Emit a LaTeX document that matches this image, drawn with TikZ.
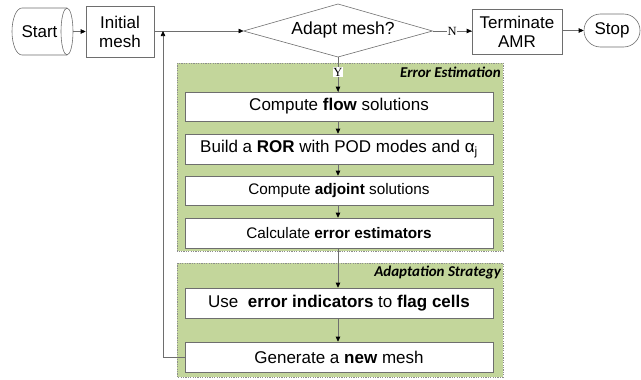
\documentclass[tikz,border=0pt]{standalone}
\usepackage{fontspec}
\setmainfont{Liberation Sans}
\newfontfamily\labfont{Carlito}
\newfontfamily\ynfont{Liberation Serif}
\usetikzlibrary{arrows.meta,shapes.geometric,shapes.misc}
\definecolor{grp}{RGB}{195,214,155}
\definecolor{ln}{RGB}{110,110,110}
\begin{document}
\begin{tikzpicture}[x=1pt,y=-1pt,
  line/.style={draw=ln, line width=0.6pt},
  arr/.style={line, -{Triangle[length=5pt,width=4.5pt,fill=black,color=black]}},
  box/.style={draw=ln, line width=0.6pt, fill=white, align=center, inner sep=0pt,
              font=\fontsize{17}{19}\selectfont},
  wbox/.style={box, minimum width=308pt},
  small/.style={font=\fontsize{15.3}{18}\selectfont},
  group/.style={draw=black!45, line width=0.6pt, dash pattern=on 1.2pt off 1.2pt, fill=grp},
  grplabel/.style={anchor=east, inner sep=0pt, font=\labfont\bfseries\itshape\fontsize{15}{17}\selectfont},
  yn/.style={fill=white, inner sep=0.5pt, font=\ynfont\fontsize{12.5}{13}\selectfont}
]
\useasboundingbox (0,0) rectangle (641,380);

% groups
\draw[group] (177,63) rectangle (503,251);
\draw[group] (177,263) rectangle (503,377);
\node[grplabel] (lab1) at (501,72) {Error Estimation};
\node[grplabel] (lab2) at (501,272) {Adaptation Strategy};

% start shape
\draw[line, fill=white] (22,8) -- (67,8) arc[start angle=-90, end angle=90, x radius=6, y radius=23.5]
   -- (22,55) arc[start angle=90, end angle=270, x radius=10, y radius=23.5] -- cycle;
\draw[line] (67,8) arc[start angle=-90, end angle=-270, x radius=6, y radius=23.5];
\node[font=\fontsize{17}{19}\selectfont, inner sep=0pt] (start) at (39.5,31.5) {Start};
\coordinate (startE) at (73,31.5);

% top row
\node[box, minimum width=68pt, minimum height=51pt] (init) at (120,31.5) {Initial\\mesh};
\draw[line, fill=white] (243.5,31) -- (338,4) -- (432.5,31) -- (338,57) -- cycle;
\coordinate (dW) at (243.5,31);
\coordinate (dE) at (432.5,31);
\coordinate (dS) at (338,57);
\node[font=\fontsize{17.5}{19}\selectfont, inner sep=0pt] (dec) at (343,30) {Adapt mesh?};
\node[box, minimum width=90pt, minimum height=45pt] (term) at (517,32) {Terminate\\AMR};
\node[box, rounded rectangle, minimum width=56pt, minimum height=33pt] (stop) at (612,30.5) {Stop};

% column boxes
\node[wbox, minimum height=29pt] (flow) at (339,106.5) {Compute \textbf{flow} solutions};
\node[wbox, minimum height=30pt] (ror) at (339,149) {Build a \textbf{ROR} with POD modes and α\textsubscript{j}};
\node[wbox, small, minimum height=29pt] (adj) at (339,190.5) {Compute \textbf{adjoint} solutions};
\node[wbox, small, minimum height=30pt] (est) at (339,233) {Calculate \textbf{error estimators}};
\node[wbox, minimum height=30pt] (flag) at (339,303) {Use\ \ \textbf{error indicators} to \textbf{flag cells}};
\node[wbox, minimum height=30pt] (new) at (339,357) {Generate a \textbf{new} mesh};

% connectors
\draw[arr] (startE) -- (init.west);
\draw[arr] (init.east |- dW) -- (dW);
\draw[line] (dE) -- node[yn] (nlab) {N} (term.west |- dE);
\draw[arr] (nlab.east) -- (term.west |- dE);
\draw[arr] (term.east |- stop.west) -- (stop.west);
\draw[line] (dS) -- (338,92);
\node[yn] (ylab) at (338,72) {Y};
\draw[arr] (ylab.south) -- (flow.north -| 338,0);
\draw[arr] (flow.south -| 338,0) -- (ror.north -| 338,0);
\draw[arr] (ror.south -| 338,0) -- (adj.north -| 338,0);
\draw[arr] (adj.south -| 338,0) -- (est.north -| 338,0);
\draw[arr] (est.south -| 338,0) -- (flag.north -| 338,0);
\draw[arr] (flag.south -| 338,0) -- (new.north -| 338,0);
\coordinate (fb) at (163,31);
\draw[arr] (new.west) -| (fb);
\end{tikzpicture}
\end{document}
